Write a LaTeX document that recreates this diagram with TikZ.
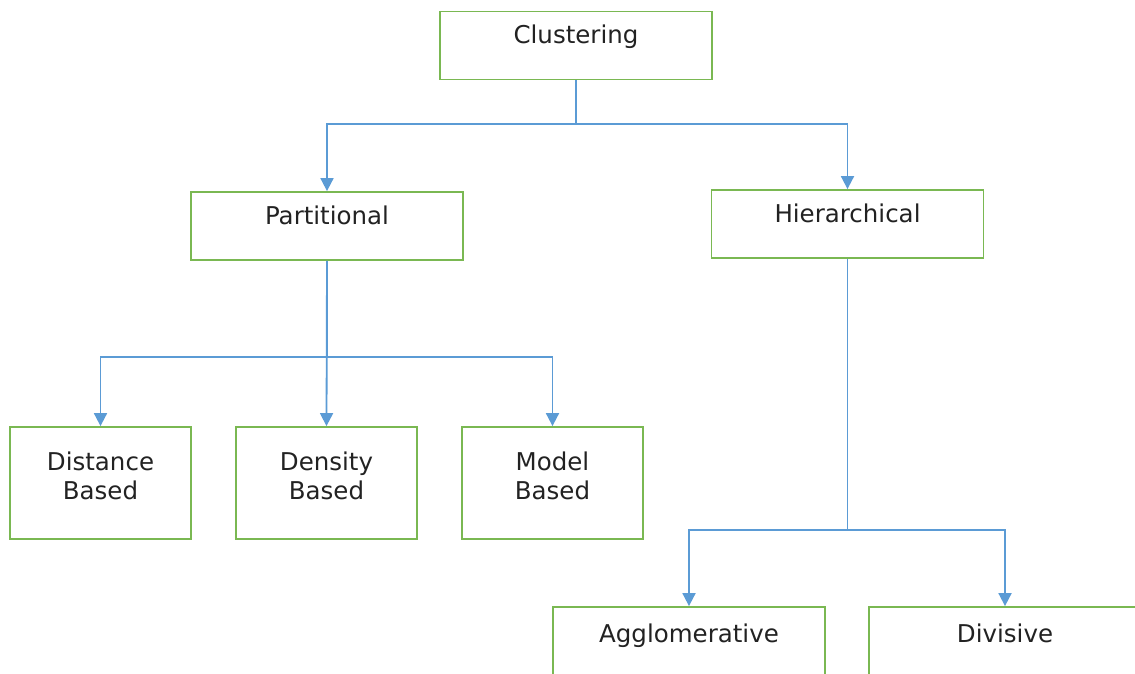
\documentclass[tikz,border=0pt]{standalone}
\usepackage{fontspec}
\setmainfont{DejaVu Sans}
\usetikzlibrary{arrows.meta}
\definecolor{boxgreen}{RGB}{122,184,82}
\definecolor{linkblue}{RGB}{91,155,213}
\definecolor{labelgray}{RGB}{34,34,34}
\begin{document}
\begin{tikzpicture}[x=1pt,y=-1pt]
    \tikzstyle{box} = [rectangle, minimum width=272pt, minimum height=68pt, draw=boxgreen, line width=1.8pt, inner sep=0pt]
    \tikzstyle{leaf} = [box, minimum width=181pt, minimum height=112pt]
    \tikzstyle{link} = [draw=linkblue, line width=1.8pt, -{Triangle[length=13pt,width=13pt]}]
    \tikzstyle{lbl} = [font=\fontsize{24.5}{29}\selectfont, text=labelgray, align=center, inner sep=0pt, anchor=base]

    \clip (0,0) rectangle (1135,673);

    \node [box] (clustering) at (576,45.5) {};
    \node [lbl] at ([yshift=-33pt]clustering.north) {Clustering};

    \node [box] (partitional) at (327,226) {};
    \node [lbl] at ([yshift=-33pt]partitional.north) {Partitional};

    \node [box] (hierarchical) at (847.5,224) {};
    \node [lbl] at ([yshift=-33pt]hierarchical.north) {Hierarchical};

    % two-line labels sit on the baseline of their last line
    \node [leaf] (distance) at (100.5,483) {};
    \node [lbl] at ([yshift=-73pt]distance.north) {Distance\\Based};

    \node [leaf] (density) at (326.5,483) {};
    \node [lbl] at ([yshift=-73pt]density.north) {Density\\Based};

    \node [leaf] (model) at (552.5,483) {};
    \node [lbl] at ([yshift=-73pt]model.north) {Model\\Based};

    \node [box] (agglomerative) at (689,641) {};
    \node [lbl] at ([yshift=-36pt]agglomerative.north) {Agglomerative};

    \node [box] (divisive) at (1005,641) {};
    \node [lbl] at ([yshift=-36pt]divisive.north) {Divisive};

    % forks
    \coordinate (top fork) at (576,124);
    \coordinate (part fork) at (327,357);
    \coordinate (hier fork) at (847.5,530);

    \draw [link] (clustering.south) -- (top fork) -| (partitional.north);
    \draw [link] (clustering.south) -- (top fork) -| (hierarchical.north);

    \draw [link] (partitional.south) -- (part fork) -| (distance.north);
    \draw [link] (partitional.south) -- (density.north);
    \draw [link] (partitional.south) -- (part fork) -| (model.north);

    \draw [link] (hierarchical.south) -- (hier fork) -| (agglomerative.north);
    \draw [link] (hierarchical.south) -- (hier fork) -| (divisive.north);
\end{tikzpicture}
\end{document}
